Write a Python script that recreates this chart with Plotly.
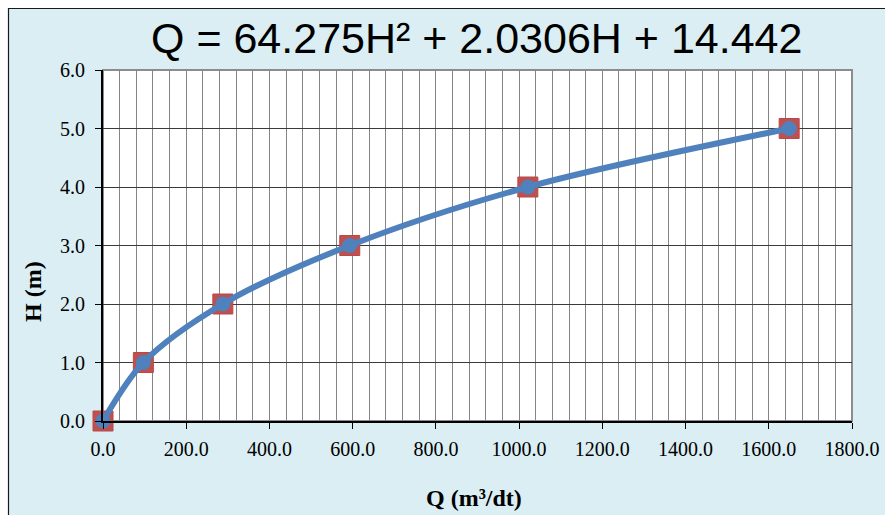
import plotly.graph_objects as go

# Data
Q_values = [0.0, 97.0, 288.0, 593.0, 1021.0, 1649.0]
H_values = [0.0, 1.0, 2.0, 3.0, 4.0, 5.0]
x_tick_vals = [0, 200, 400, 600, 800, 1000, 1200, 1400, 1600, 1800]
y_tick_vals = [0, 1, 2, 3, 4, 5, 6]
title_text = "Q = 64.275H² + 2.0306H + 14.442"
x_title = "<b>Q (m³/dt)</b>"
y_title = "<b>H (m)</b>"

W, H = 885, 515
L, R, T, B = 103, 852, 70, 421
pw, ph = R - L, B - T


def px(xp):
    return (xp - L) / pw


def py(yp):
    return (B - yp) / ph


fig = go.Figure()

fig.add_trace(go.Scatter(
    x=Q_values, y=H_values, mode="markers",
    marker=dict(symbol="square", size=20, color="#C0504D",
                line=dict(color="#B9484A", width=1)),
    cliponaxis=False, showlegend=False, hoverinfo="skip"))

fig.add_trace(go.Scatter(
    x=Q_values, y=H_values, mode="lines+markers",
    line=dict(color="#4F81BD", width=6, shape="spline", smoothing=0.9),
    marker=dict(symbol="circle", size=15, color="#4F81BD"),
    cliponaxis=False, showlegend=False))

shapes = [
    dict(type="rect", xref="paper", yref="paper",
         x0=px(8.5), x1=px(905), y0=py(540), y1=py(8.5),
         fillcolor="#DAEEF3", line=dict(color="#1a1a1a", width=1.2),
         layer="below"),
    dict(type="rect", xref="paper", yref="paper",
         x0=0, x1=1, y0=0, y1=1,
         fillcolor="white", line=dict(color="#8C8C8C", width=2),
         layer="below"),
]

annotations = [
    dict(text=title_text, xref="paper", yref="paper",
         x=px(476), y=py(38), xanchor="center", yanchor="middle",
         showarrow=False,
         font=dict(family="Liberation Sans, Arial", size=43, color="black")),
    dict(text=x_title, xref="paper", yref="paper",
         x=px(474), y=py(498), xanchor="center", yanchor="middle",
         showarrow=False,
         font=dict(family="Liberation Serif, Times New Roman", size=24, color="black")),
    dict(text=y_title, xref="paper", yref="paper",
         x=px(33), y=py(292), xanchor="center", yanchor="middle",
         textangle=-90, showarrow=False,
         font=dict(family="Liberation Serif, Times New Roman", size=24, color="black")),
]

fig.update_layout(
    width=W, height=H, autosize=False,
    margin=dict(l=L, r=W - R, t=T, b=H - B, pad=0, autoexpand=False),
    paper_bgcolor="white", plot_bgcolor="rgba(0,0,0,0)",
    shapes=shapes, annotations=annotations,
    showlegend=False,
    font=dict(family="Liberation Serif, Times New Roman", size=20, color="black"),
)

fig.update_xaxes(
    range=[0, 1800], tickvals=x_tick_vals, tickformat=".1f",
    showgrid=True, gridcolor="#858585", gridwidth=1,
    minor=dict(dtick=40, tick0=0, showgrid=True, gridcolor="#858585", gridwidth=1, ticks=""),
    ticks="outside", ticklen=6, tickcolor="black", tickwidth=1,
    showline=True, linecolor="black", linewidth=2,
    zeroline=False, ticklabelstandoff=3, automargin=False,
    tickfont=dict(family="Liberation Serif, Times New Roman", size=20, color="black"),
)

fig.update_yaxes(
    range=[0, 6], tickvals=y_tick_vals, tickformat=".1f",
    showgrid=True, gridcolor="#3A3A3A", gridwidth=1,
    ticks="outside", ticklen=6, tickcolor="black", tickwidth=1,
    showline=True, linecolor="black", linewidth=2,
    zeroline=False, ticklabelstandoff=6, automargin=False,
    tickfont=dict(family="Liberation Serif, Times New Roman", size=20, color="black"),
)

fig.write_html(
    "out.html",
    config={"displayModeBar": False, "responsive": False},
    post_script="document.body.style.margin='0';document.body.style.overflow='hidden';",
)
